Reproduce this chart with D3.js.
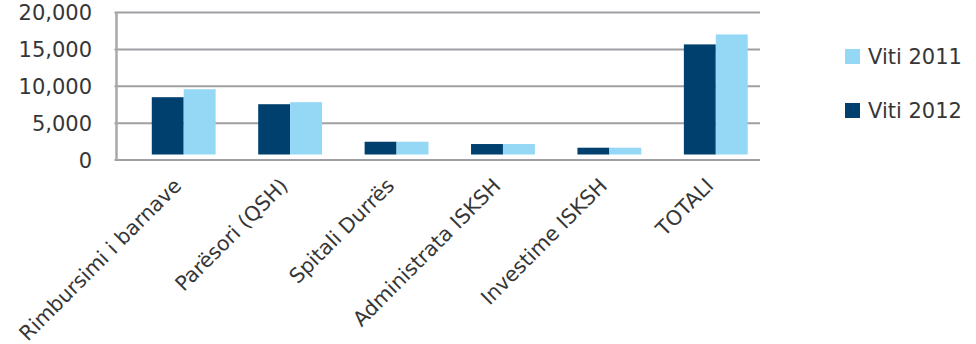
<!DOCTYPE html>
<html>
<head>
<meta charset="utf-8">
<script src="https://cdn.jsdelivr.net/npm/d3@7/dist/d3.min.js"></script>
<style>
  html, body { margin: 0; padding: 0; background: #ffffff; }
  svg text { font-family: "DejaVu Sans", sans-serif; fill: #363636; }
</style>
</head>
<body>
<svg id="chart" width="976" height="344"></svg>
<script>
// Categories along the x axis
const categories = [
  "Rimbursimi i barnave",
  "Parësori (QSH)",
  "Spitali Durrës",
  "Administrata ISKSH",
  "Investime ISKSH",
  "TOTALI"
];
// Series values
const values2012 = [7770, 6820, 1730, 1420, 920, 14930];
const values2011 = [8850, 7100, 1730, 1420, 920, 16280];
// Y axis ticks
const yTicks = [0, 5000, 10000, 15000, 20000];
// Legend entries (top to bottom)
const legendNames = ["Viti 2011", "Viti 2012"];

const series = [
  { name: "Viti 2012", values: values2012, color: "#00406f" },
  { name: "Viti 2011", values: values2011, color: "#95d8f6" }
];

const svg = d3.select("#chart");
const plot = { left: 116.5, right: 760, top: 12.5, bottom: 160 };
// oblique depth offset of the column block
const depth = { dx: 14, dy: -5.5 };

const y = d3.scaleLinear().domain([0, 20000]).range([plot.bottom, plot.top]);
const x = d3.scaleBand().domain(categories).range([plot.left, plot.right - 5]);
const xs = d3.scaleBand().domain(series.map(s => s.name))
  .range([x.bandwidth() * 0.2, x.bandwidth() * 0.8]);

const gridColor = "#a0a0a4";

// horizontal gridlines
svg.append("g").selectAll("line").data(yTicks).join("line")
  .attr("x1", plot.left - 2).attr("x2", plot.right)
  .attr("y1", d => y(d)).attr("y2", d => y(d))
  .attr("stroke", gridColor).attr("stroke-width", 2);

// vertical axis line
svg.append("line")
  .attr("x1", plot.left).attr("x2", plot.left)
  .attr("y1", plot.top).attr("y2", plot.bottom)
  .attr("stroke", "#a8a8ab").attr("stroke-width", 2.5);

// y tick labels
const fmt = d3.format(",");
svg.append("g").selectAll("text").data(yTicks).join("text")
  .attr("x", 92).attr("y", d => y(d))
  .attr("dy", "0.36em")
  .attr("text-anchor", "end")
  .style("font-size", "21px")
  .text(d => fmt(d));

// columns
const groups = svg.append("g").selectAll("g").data(series).join("g")
  .attr("fill", s => s.color);
groups.selectAll("rect").data(s => s.values.map((v, i) => ({ s, v, c: categories[i] })))
  .join("rect")
  .attr("x", d => x(d.c) + xs(d.s.name) + depth.dx)
  .attr("width", xs.bandwidth())
  .attr("y", d => y(d.v) + depth.dy)
  .attr("height", d => y(0) - y(d.v));

// category labels
svg.append("g").selectAll("text").data(categories).join("text")
  .attr("transform", d => `translate(${x(d) + x.bandwidth() / 2 + 13},${plot.bottom + 27}) rotate(-45)`)
  .attr("text-anchor", "end")
  .style("font-size", "20.5px")
  .text(d => d);

// legend
const legendColor = { "Viti 2011": "#95d8f6", "Viti 2012": "#00406f" };
const lg = svg.append("g").selectAll("g").data(legendNames).join("g")
  .attr("transform", (d, i) => `translate(845,${49 + i * 54})`);
lg.append("rect").attr("width", 15).attr("height", 15).attr("fill", d => legendColor[d]);
lg.append("text").attr("x", 23).attr("y", 14.5)
  .style("font-size", "21px").text(d => d);
</script>
</body>
</html>
